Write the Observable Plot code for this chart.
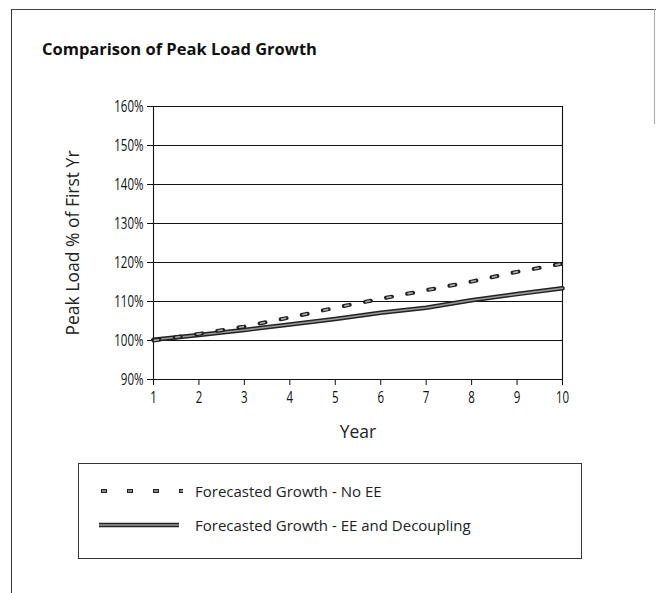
<!DOCTYPE html>
<html>
<head>
<meta charset="utf-8">
<script src="https://cdn.jsdelivr.net/npm/d3@7"></script>
<script src="https://cdn.jsdelivr.net/npm/@observablehq/plot@0.6"></script>
<style>
  body { margin: 0; background: #fff; }
  #wrap { position: relative; width: 656px; height: 593px; background: #fff; font-family: "Open Sans", sans-serif; color: #111; overflow: hidden; }
  #frame { position: absolute; left: 11px; top: 9px; width: 660px; height: 600px; border-left: 1.5px solid #333; border-top: 1.2px solid #444; }
  #rightedge { position: absolute; left: 654px; top: 9px; height: 115px; border-left: 1px solid #aaa; }
  #title { position: absolute; left: 42px; top: 37px; font-weight: bold; font-size: 16.5px; color: #111; }
  #chart { position: absolute; left: 0; top: 90px; }
  #legend { position: absolute; left: 78px; top: 463px; width: 502px; height: 94px; border: 1.2px solid #333; }
  .lg-row { position: absolute; left: 0; display: flex; align-items: center; font-size: 15px; color: #222; }
  .lg-row svg { margin-left: 20px; margin-right: 12px; }
  #chart svg g[aria-label="y-axis label"] text, #chart svg g[aria-label="x-axis label"] text { font-family: "Open Sans", sans-serif; font-size: 17.5px; fill: #222; }
  #chart svg g[aria-label="y-axis tick label"] text, #chart svg g[aria-label="x-axis tick label"] text { font-family: "Open Sans", sans-serif; font-size: 16px; fill: #111; }
</style>
</head>
<body>
<div id="wrap">
  <div id="frame"></div>
  <div id="rightedge"></div>
  <div id="title">Comparison of Peak Load Growth</div>
  <div id="chart"></div>
  <div id="legend"></div>
</div>
<script>
// ---- data ----
const years = [1, 2, 3, 4, 5, 6, 7, 8, 9, 10];
const noEE = [100, 101.7, 103.6, 105.9, 108.4, 110.7, 112.9, 115.1, 117.6, 119.7];
const eeDecoupling = [100.2, 101.4, 102.7, 104.1, 105.5, 107.1, 108.4, 110.3, 111.9, 113.4];
const yTicks = [90, 100, 110, 120, 130, 140, 150, 160];
const seriesNames = ["Forecasted Growth - No EE", "Forecasted Growth - EE and Decoupling"];

const rowsNoEE = years.map((x, i) => ({x, y: noEE[i]}));
const rowsEE = years.map((x, i) => ({x, y: eeDecoupling[i]}));

const plot = Plot.plot({
  width: 656,
  height: 360,
  marginLeft: 153,
  marginRight: 94,
  marginTop: 16,
  marginBottom: 71,
  style: { fontFamily: "'Open Sans', sans-serif", fontSize: "16px", color: "#111", background: "transparent" },
  x: { domain: [1, 10] },
  y: { domain: [90, 160] },
  marks: [
    Plot.ruleY(yTicks, { stroke: "#111", strokeWidth: 1.1 }),
    Plot.ruleX([1, 10], { stroke: "#111", strokeWidth: 1.1 }),
    Plot.axisX({ ticks: years, tickSize: 6, tickPadding: 6, fontSize: 16, label: "Year", labelAnchor: "center", labelOffset: 58, labelArrow: "none", stroke: "#111" }),
    Plot.axisY({ ticks: yTicks, tickSize: 6, tickPadding: 4, fontSize: 16, tickFormat: d => d + "%", label: "Peak Load % of First Yr", labelAnchor: "center", labelOffset: 87, labelArrow: "none", stroke: "#111" }),
    Plot.line(rowsEE, { x: "x", y: "y", stroke: "#222", strokeWidth: 4.5 }),
    Plot.line(rowsEE, { x: "x", y: "y", stroke: "#9a9a9a", strokeWidth: 1.6 }),
    Plot.line(rowsNoEE, { x: "x", y: "y", stroke: "#222", strokeWidth: 4, strokeDasharray: "6,15.5" }),
    Plot.line(rowsNoEE, { x: "x", y: "y", stroke: "#aaa", strokeWidth: 1.6, strokeDasharray: "4,17.5", strokeDashoffset: -1 })
  ]
});
document.getElementById("chart").appendChild(plot);

// condense tick labels horizontally (reference uses a condensed face)
plot.querySelectorAll('g[aria-label="y-axis tick label"] text, g[aria-label="x-axis tick label"] text').forEach(t => {
  const tr = t.getAttribute("transform") || "";
  t.setAttribute("transform", (tr + " scale(0.72,1)").trim());
});

// ---- legend ----
const legend = document.getElementById("legend");
const row1 = document.createElement("div");
row1.className = "lg-row";
row1.style.top = "17px";
row1.innerHTML = `<svg width="84" height="12"><line x1="2" y1="6" x2="84" y2="6" stroke="#222" stroke-width="4" stroke-dasharray="6,20"/><line x1="3" y1="6" x2="84" y2="6" stroke="#aaa" stroke-width="1.6" stroke-dasharray="4,22"/></svg><span></span>`;
row1.querySelector("span").textContent = seriesNames[0];
const row2 = document.createElement("div");
row2.className = "lg-row";
row2.style.top = "51px";
row2.innerHTML = `<svg width="84" height="12"><line x1="0" y1="6" x2="80" y2="6" stroke="#222" stroke-width="4.5"/><line x1="0" y1="6" x2="80" y2="6" stroke="#9a9a9a" stroke-width="1.6"/></svg><span></span>`;
row2.querySelector("span").textContent = seriesNames[1];
legend.appendChild(row1);
legend.appendChild(row2);
</script>
</body>
</html>
